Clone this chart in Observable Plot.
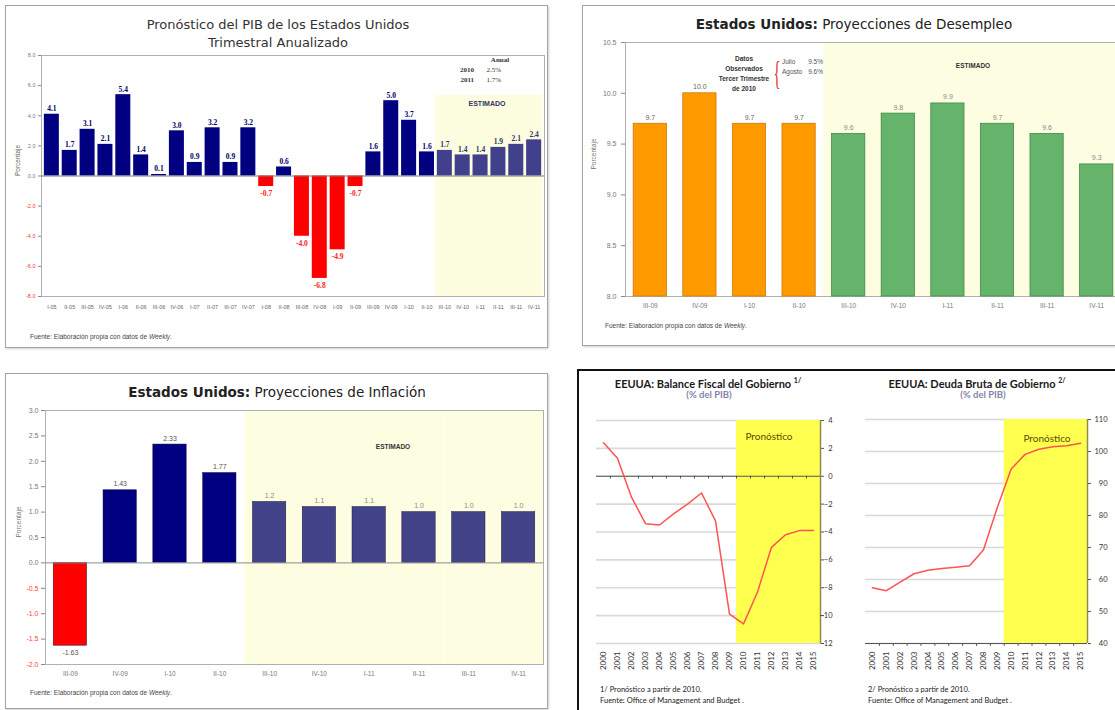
<!DOCTYPE html>
<html><head><meta charset="utf-8">
<script src="https://cdn.jsdelivr.net/npm/d3@7"></script>
<script src="https://cdn.jsdelivr.net/npm/@observablehq/plot@0.6"></script>
<style>
html,body{margin:0;padding:0;background:#fff;width:1115px;height:710px;overflow:hidden;position:relative;}
.abs{position:absolute;white-space:nowrap;line-height:1;}
.box{position:absolute;border:1.5px solid #a3a3a3;box-shadow:1px 1px 2px #d0d0d0;}
svg{overflow:visible;}
</style></head><body>
<script>
// ---------- DATA ----------
const gdpQuarters = ["I-05","II-05","III-05","IV-05","I-06","II-06","III-06","IV-06","I-07","II-07","III-07","IV-07","I-08","II-08","III-08","IV-08","I-09","II-09","III-09","IV-09","I-10","II-10","III-10","IV-10","I-11","II-11","III-11","IV-11"];
const gdpValues = [4.1,1.7,3.1,2.1,5.4,1.4,0.1,3.0,0.9,3.2,0.9,3.2,-0.7,0.6,-4.0,-6.8,-4.9,-0.7,1.6,5.0,3.7,1.6,1.7,1.4,1.4,1.9,2.1,2.4];
const gdpFirstEstimate = "III-10";
const gdpTicks = [8,6,4,2,0,-2,-4,-6,-8];
const gdpAnnual = [["2010","2.5%"],["2011","1.7%"]];

const unQuarters = ["III-09","IV-09","I-10","II-10","III-10","IV-10","I-11","II-11","III-11","IV-11"];
const unValues = [9.7,10.0,9.7,9.7,9.6,9.8,9.9,9.7,9.6,9.3];
const unFirstEstimate = "III-10";
const unTicks = [8.0,8.5,9.0,9.5,10.0,10.5];
const unObserved = [["Julio","9.5%"],["Agosto","9.6%"]];

const infQuarters = ["III-09","IV-09","I-10","II-10","III-10","IV-10","I-11","II-11","III-11","IV-11"];
const infValues = [-1.63,1.43,2.33,1.77,1.2,1.1,1.1,1.0,1.0,1.0];
const infFirstEstimate = "III-10";
const infTicks = [3.0,2.5,2.0,1.5,1.0,0.5,0.0,-0.5,-1.0,-1.5,-2.0];

const years = [2000,2001,2002,2003,2004,2005,2006,2007,2008,2009,2010,2011,2012,2013,2014,2015];
const fiscalBalance = [2.4,1.3,-1.5,-3.4,-3.5,-2.7,-2.0,-1.2,-3.2,-9.9,-10.6,-8.3,-5.1,-4.2,-3.9,-3.9];
const grossDebt = [57.4,56.5,59.2,61.8,62.9,63.4,63.8,64.3,69.2,82.5,94.5,99.1,100.7,101.5,101.8,102.6];
const forecastStart = 2010;
const fiscalTicks = [4,2,0,-2,-4,-6,-8,-10,-12];
const debtTicks = [110,100,90,80,70,60,50,40];

// ---------- HELPERS ----------
function box(l,t,w,h,css){const d=document.createElement("div");d.className="box";d.style.left=l+"px";d.style.top=t+"px";d.style.width=w+"px";d.style.height=h+"px";if(css)d.style.cssText+=css;document.body.appendChild(d);}
function put(svg,l,t){svg.style.position="absolute";svg.style.left=l+"px";svg.style.top=t+"px";document.body.appendChild(svg);}
function txt(html,x,y,css,anchor){const d=document.createElement("div");d.className="abs";d.innerHTML=html;d.style.cssText+=css||"";d.style.left=x+"px";d.style.top=y+"px";const tx=anchor==="start"?"0":anchor==="end"?"-100%":"-50%";if(!d.style.transform)d.style.transform=`translate(${tx},-50%)`;document.body.appendChild(d);return d;}
const svgStyle="background:transparent;overflow:visible;font-family:'Liberation Sans',Arial,sans-serif;";

// ---------- PANEL BOXES ----------
box(5,5,541,341);
box(582,5,600,339);
box(5,373,541,334);
box(577,369,600,400,"border:none;box-shadow:none;border-top:2px solid #111;border-left:2px solid #111;");

// ---------- GDP ----------
{
  const est0 = gdpQuarters.indexOf(gdpFirstEstimate);
  const data = gdpQuarters.map((q,i)=>({q,v:gdpValues[i],est:i>=est0}));
  const col = d => d.est ? "#40408c" : (d.v<0 ? "#ff0000" : "#000080");
  const lab = d => d.est ? "#34346e" : (d.v<0 ? "#ff2020" : "#000066");
  const svg = Plot.plot({
    width:548,height:275,marginLeft:41,marginRight:4,marginTop:10,marginBottom:24,
    style:svgStyle,
    x:{type:"band",domain:gdpQuarters,paddingInner:0.16,paddingOuter:0.16,round:false},
    y:{domain:[-8,8]},
    color:{type:"identity"},
    marks:[
      Plot.barY(data.filter(d=>d.est),{x:"q",y1:-8,y2:5.35,fill:"#fcfcdf",insetLeft:-1.5,insetRight:-1.5}),
      Plot.frame({stroke:"#b0b0b0"}),
      Plot.barY(data,{x:"q",y:"v",fill:col}),
      Plot.ruleY([0],{stroke:"#7a7a7a"}),
      Plot.text(data.filter(d=>d.v>=0),{x:"q",y:"v",text:d=>d.v.toFixed(1),lineAnchor:"bottom",dy:-3,fill:lab,fontSize:7.5,fontWeight:"bold",fontFamily:"Liberation Serif"}),
      Plot.text(data.filter(d=>d.v<0),{x:"q",y:"v",text:d=>d.v.toFixed(1),lineAnchor:"top",dy:4,fill:lab,fontSize:7.5,fontWeight:"bold",fontFamily:"Liberation Serif"}),
      Plot.axisY(gdpTicks.filter(t=>t>=0),{tickFormat:d=>d.toFixed(1),tickSize:3,tickPadding:3,fontSize:5.5,fill:"#777",stroke:"#888",label:null}),
      Plot.axisY(gdpTicks.filter(t=>t<0),{tickFormat:d=>d.toFixed(1),tickSize:3,tickPadding:3,fontSize:5.5,fill:"#ff3030",stroke:"#888",label:null}),
      Plot.axisX({tickSize:0,tickPadding:9,fontSize:5.5,fill:"#666",label:null}),
      Plot.text(["Porcentaje"],{frameAnchor:"left",rotate:-90,dx:-24,fontSize:6.5,fill:"#666"})
    ]
  });
  put(svg,0,45);
  txt("Pronóstico del PIB de los Estados Unidos",278,24,"font-family:'DejaVu Sans';font-size:13px;color:#333;");
  txt("Trimestral Anualizado",278,42,"font-family:'DejaVu Sans';font-size:13px;color:#333;");
  txt("Anual",500,60,"font-family:'Liberation Serif';font-weight:bold;font-size:7px;color:#333;");
  gdpAnnual.forEach((r,i)=>{
    txt(r[0],474,70+i*10,"font-family:'Liberation Serif';font-weight:bold;font-size:7px;color:#333;","end");
    txt(r[1],501,70+i*10,"font-family:'Liberation Serif';font-size:7px;color:#333;","end");
  });
  txt("ESTIMADO",487,103,"font-family:'Liberation Sans';font-weight:bold;font-size:7px;color:#33336a;");
  txt("Fuente: Elaboración propia con datos de <i>Weekly</i>.",30,337,"font-family:'Liberation Sans';font-size:6.5px;color:#444;","start");
}

// ---------- UNEMPLOYMENT ----------
{
  const est0 = unQuarters.indexOf(unFirstEstimate);
  const data = unQuarters.map((q,i)=>({q,v:unValues[i],est:i>=est0}));
  const svg = Plot.plot({
    width:550,height:290,marginLeft:50,marginRight:4,marginTop:7,marginBottom:29,
    style:svgStyle,
    x:{type:"band",domain:unQuarters,paddingInner:0.33,paddingOuter:0.165,round:false},
    y:{domain:[8,10.5]},
    color:{type:"identity"},
    marks:[
      Plot.barY(data.filter(d=>d.est),{x:"q",y1:8,y2:10.5,fill:"#fdfde2",insetLeft:-8.2,insetRight:-8.2}),
      Plot.frame({stroke:"#b0b0b0"}),
      Plot.barY(data,{x:"q",y1:8,y2:"v",fill:d=>d.est?"#66b46c":"#ff9900",stroke:d=>d.est?"#3f8a47":"#cf7a00",strokeWidth:0.8}),
      Plot.text(data,{x:"q",y:"v",text:d=>d.v.toFixed(1),lineAnchor:"bottom",dy:-4,fill:d=>d.est?"#8a8a8a":"#666",fontSize:7}),
      Plot.axisY(unTicks,{tickFormat:d=>d.toFixed(1),tickSize:4,tickPadding:5,fontSize:7,fill:"#777",stroke:"#888",label:null}),
      Plot.axisX({tickSize:0,tickPadding:7,fontSize:6.5,fill:"#777",label:null}),
      Plot.text(["Porcentaje"],{frameAnchor:"left",rotate:-90,dx:-32,fontSize:6.5,fill:"#777"})
    ]
  });
  put(svg,575,35);
  txt("<b>Estados Unidos:</b> Proyecciones de Desempleo",854,25,"font-family:'DejaVu Sans';font-size:13.5px;color:#222;");
  txt("Datos<br>Observados<br>Tercer Trimestre<br>de 2010",744,74,"font-family:'Liberation Sans';font-weight:bold;font-size:6.5px;line-height:10px;text-align:center;color:#333;");
  txt("{",777,73,"font-family:'Liberation Serif';font-size:34px;color:#e02020;transform:translate(-50%,-50%) scaleX(0.4);");
  unObserved.forEach((r,i)=>{
    txt(r[0],782,62+i*10,"font-family:'Liberation Sans';font-size:6.5px;color:#555;","start");
    txt(r[1],823,62+i*10,"font-family:'Liberation Sans';font-size:6.5px;color:#555;","end");
  });
  txt("ESTIMADO",973,66,"font-family:'Liberation Sans';font-weight:bold;font-size:6.5px;color:#333;");
  txt("Fuente: Elaboración propia con datos de <i>Weekly</i>.",605,326,"font-family:'Liberation Sans';font-size:6.5px;color:#444;","start");
}

// ---------- INFLATION ----------
{
  const est0 = infQuarters.indexOf(infFirstEstimate);
  const data = infQuarters.map((q,i)=>({q,v:infValues[i],est:i>=est0}));
  const col = d => d.est ? "#43438a" : (d.v<0 ? "#ff0000" : "#000080");
  const fmt = d => d.est ? d.v.toFixed(1) : d.v.toFixed(2);
  const svg = Plot.plot({
    width:548,height:285,marginLeft:45,marginRight:5,marginTop:10,marginBottom:21,
    style:svgStyle,
    x:{type:"band",domain:infQuarters,paddingInner:0.33,paddingOuter:0.165,round:false},
    y:{domain:[-2,3]},
    color:{type:"identity"},
    marks:[
      Plot.barY(data.filter(d=>d.est),{x:"q",y1:-2,y2:3,fill:"#fdfde2",insetLeft:-8.2,insetRight:-8.2}),
      Plot.frame({stroke:"#b0b0b0"}),
      Plot.barY(data,{x:"q",y:"v",fill:col,stroke:"#1a1a40",strokeWidth:0.5}),
      Plot.ruleY([0],{stroke:"#8a8a8a"}),
      Plot.text(data.filter(d=>d.v>=0),{x:"q",y:"v",text:fmt,lineAnchor:"bottom",dy:-4,fill:d=>d.est?"#8a8a8a":"#555",fontSize:7}),
      Plot.text(data.filter(d=>d.v<0),{x:"q",y:"v",text:fmt,lineAnchor:"top",dy:4,fill:"#555",fontSize:7}),
      Plot.axisY(infTicks.filter(t=>t>=0),{tickFormat:d=>d.toFixed(1),tickSize:4,tickPadding:3,fontSize:7,fill:"#777",stroke:"#888",label:null}),
      Plot.axisY(infTicks.filter(t=>t<0),{tickFormat:d=>d.toFixed(1),tickSize:4,tickPadding:3,fontSize:7,fill:"#ff4040",stroke:"#888",label:null}),
      Plot.axisX({tickSize:0,tickPadding:7,fontSize:6.5,fill:"#777",label:null}),
      Plot.text(["Porcentaje"],{frameAnchor:"left",rotate:-90,dx:-27,fontSize:6.5,fill:"#777"})
    ]
  });
  put(svg,0,400);
  txt("<b>Estados Unidos:</b> Proyecciones de Inflación",277,393,"font-family:'DejaVu Sans';font-size:13.5px;color:#222;");
  txt("ESTIMADO",393,447,"font-family:'Liberation Sans';font-weight:bold;font-size:6.5px;color:#333;");
  txt("Fuente: Elaboración propia con datos de <i>Weekly</i>.",30,693,"font-family:'Liberation Sans';font-size:6.5px;color:#444;","start");
}

// ---------- FISCAL / DEBT LINE CHARTS ----------
function lineChart(values, ticks, domain, opts){
  const data = years.map((y,i)=>({year:y,v:values[i]}));
  const x0 = years[0]-0.5, x1 = years[years.length-1]+0.5;
  return Plot.plot({
    width:270,height:opts.height,marginLeft:opts.ml,marginRight:28,marginTop:10,marginBottom:32,
    style:svgStyle+"font-family:Lato,sans-serif;",
    x:{domain:[x0,x1]},
    y:{domain},
    marks:[
      Plot.ruleY(ticks,{stroke:"#d9d9d9",strokeWidth:1.6}),
      Plot.rect([forecastStart],{x1:d=>d-0.5,x2:x1,y1:domain[0],y2:domain[1],fill:"#ffff4f"}),
      Plot.ruleY([opts.base],{stroke:"#555",strokeWidth:1}),
      Plot.ruleX(years.slice(0,-1),{x:d=>d+0.5,y1:opts.base,y2:opts.base-opts.tick,stroke:"#555"}),
      Plot.ruleX([x1],{stroke:"#8c8c50",strokeWidth:1.5}),
      Plot.line(data,{x:"year",y:"v",stroke:"#ff5252",strokeWidth:1.5}),
      Plot.axisY(ticks,{anchor:"right",tickSize:3,tickPadding:opts.tp,textAnchor:"end",fontSize:7.5,fill:"#333",stroke:"#555",label:null}),
      Plot.axisX(years,{tickRotate:-90,tickSize:0,tickPadding:8,tickFormat:d=>String(d),fontSize:8,fill:"#333",label:null}),
      Plot.text(["Pronóstico"],{frameAnchor:"top-right",dx:opts.pdx,dy:opts.pdy,textAnchor:"end",lineAnchor:"middle",fontSize:10,fill:"#5a4a00"})
    ]
  });
}
put(lineChart(fiscalBalance,fiscalTicks,[-12,4],{height:265,ml:18,base:0,tick:0.2,tp:9,pdx:-28,pdy:16}),578,410);
put(lineChart(grossDebt,debtTicks,[40,110],{height:266,ml:20,base:40,tick:0.9,tp:17,pdx:-17,pdy:19}),845,409);

const tStyle="font-family:Lato;font-weight:bold;font-size:11px;color:#1a1a1a;";
const sStyle="font-family:Lato;font-weight:bold;font-size:9.5px;color:#8484aa;";
const fStyle="font-family:Lato;font-size:7.5px;color:#222;";
txt("EEUUA: Balance Fiscal del Gobierno <sup style='font-size:7px'>1/</sup>",708,383,tStyle);
txt("(% del PIB)",709,395,sStyle);
txt("EEUUA: Deuda Bruta de Gobierno <sup style='font-size:7px'>2/</sup>",977,383,tStyle);
txt("(% del PIB)",983,395,sStyle);
txt("1/ Pronóstico a partir de 2010.",600,690,fStyle,"start");
txt("Fuente: Office of Management and Budget .",600,701,fStyle,"start");
txt("2/ Pronóstico a partir de 2010.",868,690,fStyle,"start");
txt("Fuente: Office of Management and Budget .",868,701,fStyle,"start");
</script>
</body></html>
